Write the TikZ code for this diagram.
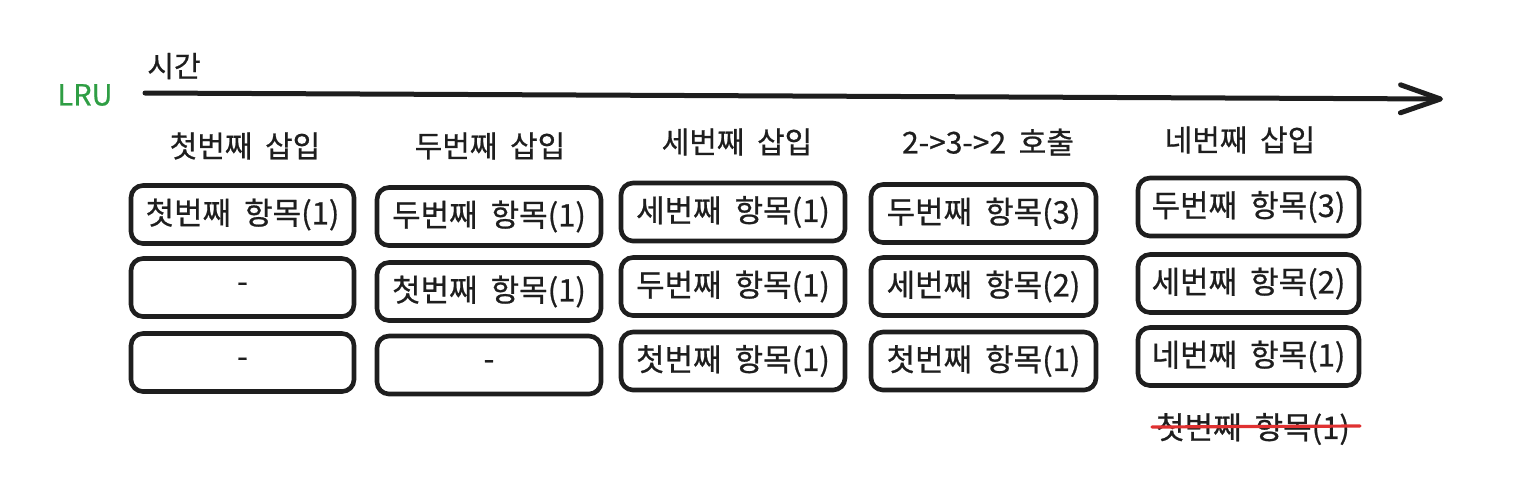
\documentclass[tikz,border=0pt]{standalone}
\usepackage{fontspec}
\newfontfamily\kr[FakeBold=0.7]{Noto Sans CJK KR}
\usetikzlibrary{arrows.meta}
\definecolor{lrugreen}{HTML}{2F9E44}
\definecolor{strikered}{HTML}{E03131}
\definecolor{ink}{HTML}{1E1E1E}
\newcommand{\wsp}{\hspace{0.42em}}
\newcommand{\emptymark}{\raisebox{-0.12em}{-}}
\tikzset{
  txt/.style={font=\kr\fontsize{15.5}{18}\selectfont, text=ink, inner sep=0pt},
  small/.style={font=\kr\fontsize{14.5}{17}\selectfont},
  head/.style={font=\kr\fontsize{15}{18}\selectfont},
  cell/.style={txt, draw=ink, line width=2.3pt, rounded corners=6pt, minimum height=29pt},
  w1/.style={minimum width=111.5pt},
  w2/.style={minimum width=112pt},
  w3/.style={minimum width=112pt},
  w4/.style={minimum width=112.5pt},
  w5/.style={minimum width=110.5pt},
}
\begin{document}
\begin{tikzpicture}[x=0.5pt,y=-0.5pt]
\useasboundingbox (0,0) rectangle (1538,494);
% time axis
\coordinate (tstart) at (145,93);
\coordinate (tend) at (1443,99);
\draw[ink, line width=2.5pt, line cap=round, -{Straight Barb[length=20pt,width=14pt,line width=2.5pt,round]}] (tstart) -- (tend);
\node[txt,small] (time) at (174,66) {시간};
\node[txt,small, text=lrugreen] (lru) at (85,95) {LRU};
% titles
\node[txt,head] (h1) at (245,146) {첫번째\wsp 삽입};
\node[txt,head] (h2) at (490,146) {두번째\wsp 삽입};
\node[txt,head] (h3) at (737,142) {세번째\wsp 삽입};
\node[txt,head] (h4) at (988,142) {2->3->2\wsp 호출};
\node[txt,head] (h5) at (1240,140) {네번째\wsp 삽입};
% column 1
\node[cell,w1] (a1) at (242.5,214.5) {첫번째\wsp 항목(1)};
\node[cell,w1] (a2) at (242.5,287.5) {\emptymark};
\node[cell,w1] (a3) at (242.5,362.5) {\emptymark};
% column 2
\node[cell,w2] (b1) at (489,216.5) {두번째\wsp 항목(1)};
\node[cell,w2] (b2) at (489,291.5) {첫번째\wsp 항목(1)};
\node[cell,w2] (b3) at (489,365) {\emptymark};
% column 3
\node[cell,w3] (c1) at (733,212) {세번째\wsp 항목(1)};
\node[cell,w3] (c2) at (733,286.5) {두번째\wsp 항목(1)};
\node[cell,w3] (c3) at (733,361) {첫번째\wsp 항목(1)};
% column 4
\node[cell,w4] (d1) at (983.5,213.5) {두번째\wsp 항목(3)};
\node[cell,w4] (d2) at (983.5,286.5) {세번째\wsp 항목(2)};
\node[cell,w4] (d3) at (983.5,361) {첫번째\wsp 항목(1)};
% column 5
\node[cell,w5] (e1) at (1248.5,207) {두번째\wsp 항목(3)};
\node[cell,w5] (e2) at (1248.5,283.5) {세번째\wsp 항목(2)};
\node[cell,w5] (e3) at (1248.5,356.5) {네번째\wsp 항목(1)};
% evicted
\node[txt] (ev) at (1253,429) {첫번째\wsp 항목(1)};
\coordinate (s1) at (1152,427);
\coordinate (s2) at (1360,426);
\draw[strikered, line width=1.6pt, line cap=round] (s1) -- (s2);
\end{tikzpicture}
\end{document}
